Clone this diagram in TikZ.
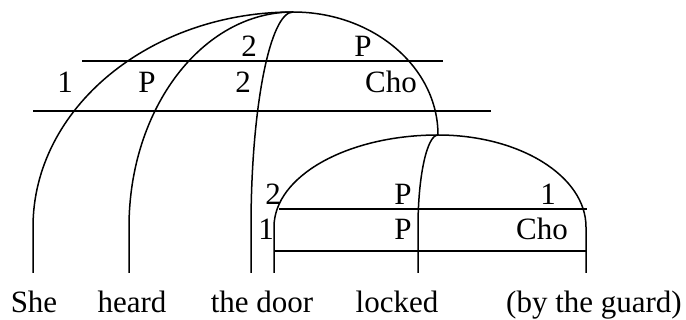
\documentclass[tikz,border=0pt]{standalone}
\usepackage{fontspec}
\setmainfont{Liberation Serif}
\usetikzlibrary{calc}

% quarter of an ellipse: #1 has the upright end, #2 the flat end
\newcommand{\qarc}[2]{(#1) .. controls ($(#1)!0.552!(#1|-#2)$) and ($(#2)!0.552!(#1|-#2)$) .. (#2)}

\begin{document}
\begin{tikzpicture}[x=1pt,y=-1pt,line width=1.5pt,
  lbl/.style={font=\fontsize{31}{37}\selectfont,inner sep=0pt,anchor=base}]
  \useasboundingbox (0,0) rectangle (686,320);
  % apexes of the two arches
  \coordinate (top) at (293,12);
  \coordinate (sub) at (438,135);
  % stems
  \coordinate (she-t) at (33,227);    \coordinate (she-b) at (33,273);
  \coordinate (heard-t) at (129,227); \coordinate (heard-b) at (129,273);
  \coordinate (door-t) at (251,227);  \coordinate (door-b) at (251,273);
  \coordinate (obj-t) at (274,227);   \coordinate (obj-b) at (274,273);
  \coordinate (locked-t) at (418,227);\coordinate (locked-b) at (418,273);
  \coordinate (guard-t) at (586,227); \coordinate (guard-b) at (586,273);
  % upper arch
  \draw (she-b) -- \qarc{she-t}{top};
  \draw (heard-b) -- \qarc{heard-t}{top};
  \draw (door-b) -- \qarc{door-t}{top};
  \draw \qarc{sub}{top};
  \draw (82,61) -- (443,61);
  \draw (33,111) -- (491,111);
  % lower arch
  \draw (obj-b) -- \qarc{obj-t}{sub};
  \draw (locked-b) -- \qarc{locked-t}{sub};
  \draw (guard-b) -- \qarc{guard-t}{sub};
  \draw (279,209) -- (587,209);
  \draw (274,251) -- (586,251);
  % upper rows
  \node[lbl] (u2) at (249,57) {2};
  \node[lbl] (uP) at (363,57) {P};
  \node[lbl] (v1) at (65,93) {1};
  \node[lbl] (vP) at (147,93) {P};
  \node[lbl] (v2) at (243,93) {2};
  \node[lbl] (vCho) at (391,93) {Cho};
  % lower rows
  \node[lbl] (l2) at (273,205) {2};
  \node[lbl] (lP) at (403,205) {P};
  \node[lbl] (l1) at (548,205) {1};
  \node[lbl] (m1) at (266,240) {1};
  \node[lbl] (mP) at (403,240) {P};
  \node[lbl] (mCho) at (542,240) {Cho};
  % words
  \node[lbl] (she) at (34,313) {She};
  \node[lbl] (heard) at (132,313) {heard};
  \node[lbl] (door) at (262,313) {the door};
  \node[lbl] (locked) at (397,313) {locked};
  \node[lbl] (guard) at (594,313) {(by the guard)};
\end{tikzpicture}
\end{document}
